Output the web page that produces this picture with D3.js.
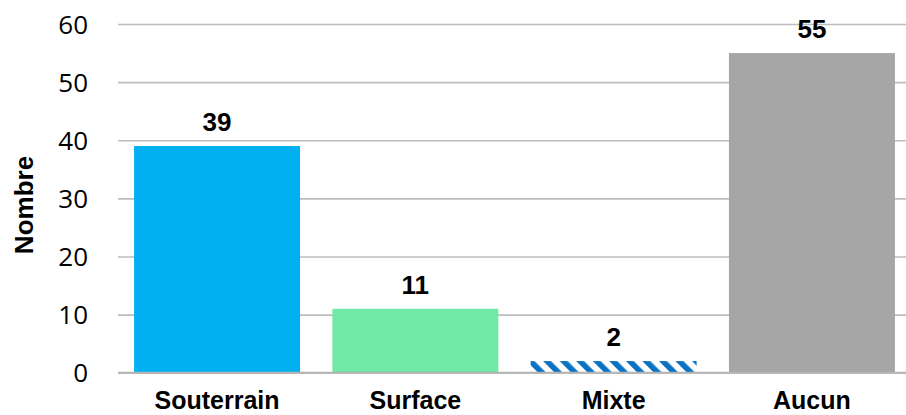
<!DOCTYPE html>
<html>
<head>
<meta charset="utf-8">
<script src="https://cdn.jsdelivr.net/npm/d3@7"></script>
<style>
  html, body { margin: 0; padding: 0; background: #fff; }
  svg { display: block; }
</style>
</head>
<body>
<svg id="chart" width="906" height="415"></svg>
<script>
const categories = ["Souterrain", "Surface", "Mixte", "Aucun"];
const values = [39, 11, 2, 55];
const yTicks = [0, 10, 20, 30, 40, 50, 60];
const yTitle = "Nombre";

const W = 906, H = 415;
const svg = d3.select("#chart");

const defs = svg.append("defs");
const pat = defs.append("pattern")
  .attr("id", "stripes")
  .attr("patternUnits", "userSpaceOnUse")
  .attr("width", 11.7).attr("height", 11.7)
  .attr("patternTransform", "rotate(-45)");
pat.append("rect").attr("width", 11.7).attr("height", 11.7).attr("fill", "#ffffff");
pat.append("rect").attr("width", 5.6).attr("height", 11.7).attr("fill", "#0A72C2");

const fills = ["#00B0F0", "#70E8A6", "url(#stripes)", "#A6A6A6"];

const y = d3.scaleLinear().domain([0, 60]).range([372.7, 24]);
const x = d3.scaleBand().domain(categories).range([118, 911])
  .paddingInner(0.163).paddingOuter(0.081);

// gridlines
const grid = svg.append("g")
  .attr("transform", "translate(118,0)")
  .call(d3.axisLeft(y).tickValues(yTicks).tickSize(-(911 - 118)).tickFormat(""));
grid.select(".domain").remove();
grid.selectAll(".tick line").attr("stroke", "#BDBDBD").attr("stroke-width", 1.6);

// y tick labels
const yAxis = svg.append("g").attr("transform", "translate(88,0)")
  .call(d3.axisLeft(y).tickValues(yTicks).tickSize(0).tickPadding(0));
yAxis.select(".domain").remove();
yAxis.selectAll("text")
  .attr("font-family", "'Open Sans', sans-serif")
  .attr("font-size", 26)
  .attr("fill", "#000")
  .attr("dy", "0.35em");

// bars
svg.append("g").selectAll("rect").data(categories).join("rect")
  .attr("x", d => x(d))
  .attr("width", x.bandwidth())
  .attr("y", (d, i) => y(values[i]))
  .attr("height", (d, i) => y(0) - y(values[i]))
  .attr("fill", (d, i) => fills[i]);

// zero line on top
svg.append("line")
  .attr("x1", 118).attr("x2", 911)
  .attr("y1", y(0)).attr("y2", y(0))
  .attr("stroke", "#B5B5B5").attr("stroke-width", 1.8);

// value labels
svg.append("g").selectAll("text").data(categories).join("text")
  .attr("x", d => x(d) + x.bandwidth() / 2)
  .attr("y", (d, i) => y(values[i]) - 15)
  .attr("text-anchor", "middle")
  .attr("font-family", "'Liberation Sans', Arial, sans-serif")
  .attr("font-weight", "bold")
  .attr("font-size", 26)
  .attr("fill", "#000")
  .text((d, i) => values[i]);

// category labels
svg.append("g").selectAll("text").data(categories).join("text")
  .attr("x", d => x(d) + x.bandwidth() / 2)
  .attr("y", 409)
  .attr("text-anchor", "middle")
  .attr("font-family", "'Liberation Sans', Arial, sans-serif")
  .attr("font-weight", "bold")
  .attr("font-size", 25)
  .attr("fill", "#000")
  .text(d => d);

// y title
svg.append("text")
  .attr("transform", "translate(33,205) rotate(-90)")
  .attr("text-anchor", "middle")
  .attr("font-family", "'Liberation Sans', Arial, sans-serif")
  .attr("font-weight", "bold")
  .attr("font-size", 26)
  .attr("fill", "#000")
  .text(yTitle);
</script>
</body>
</html>
